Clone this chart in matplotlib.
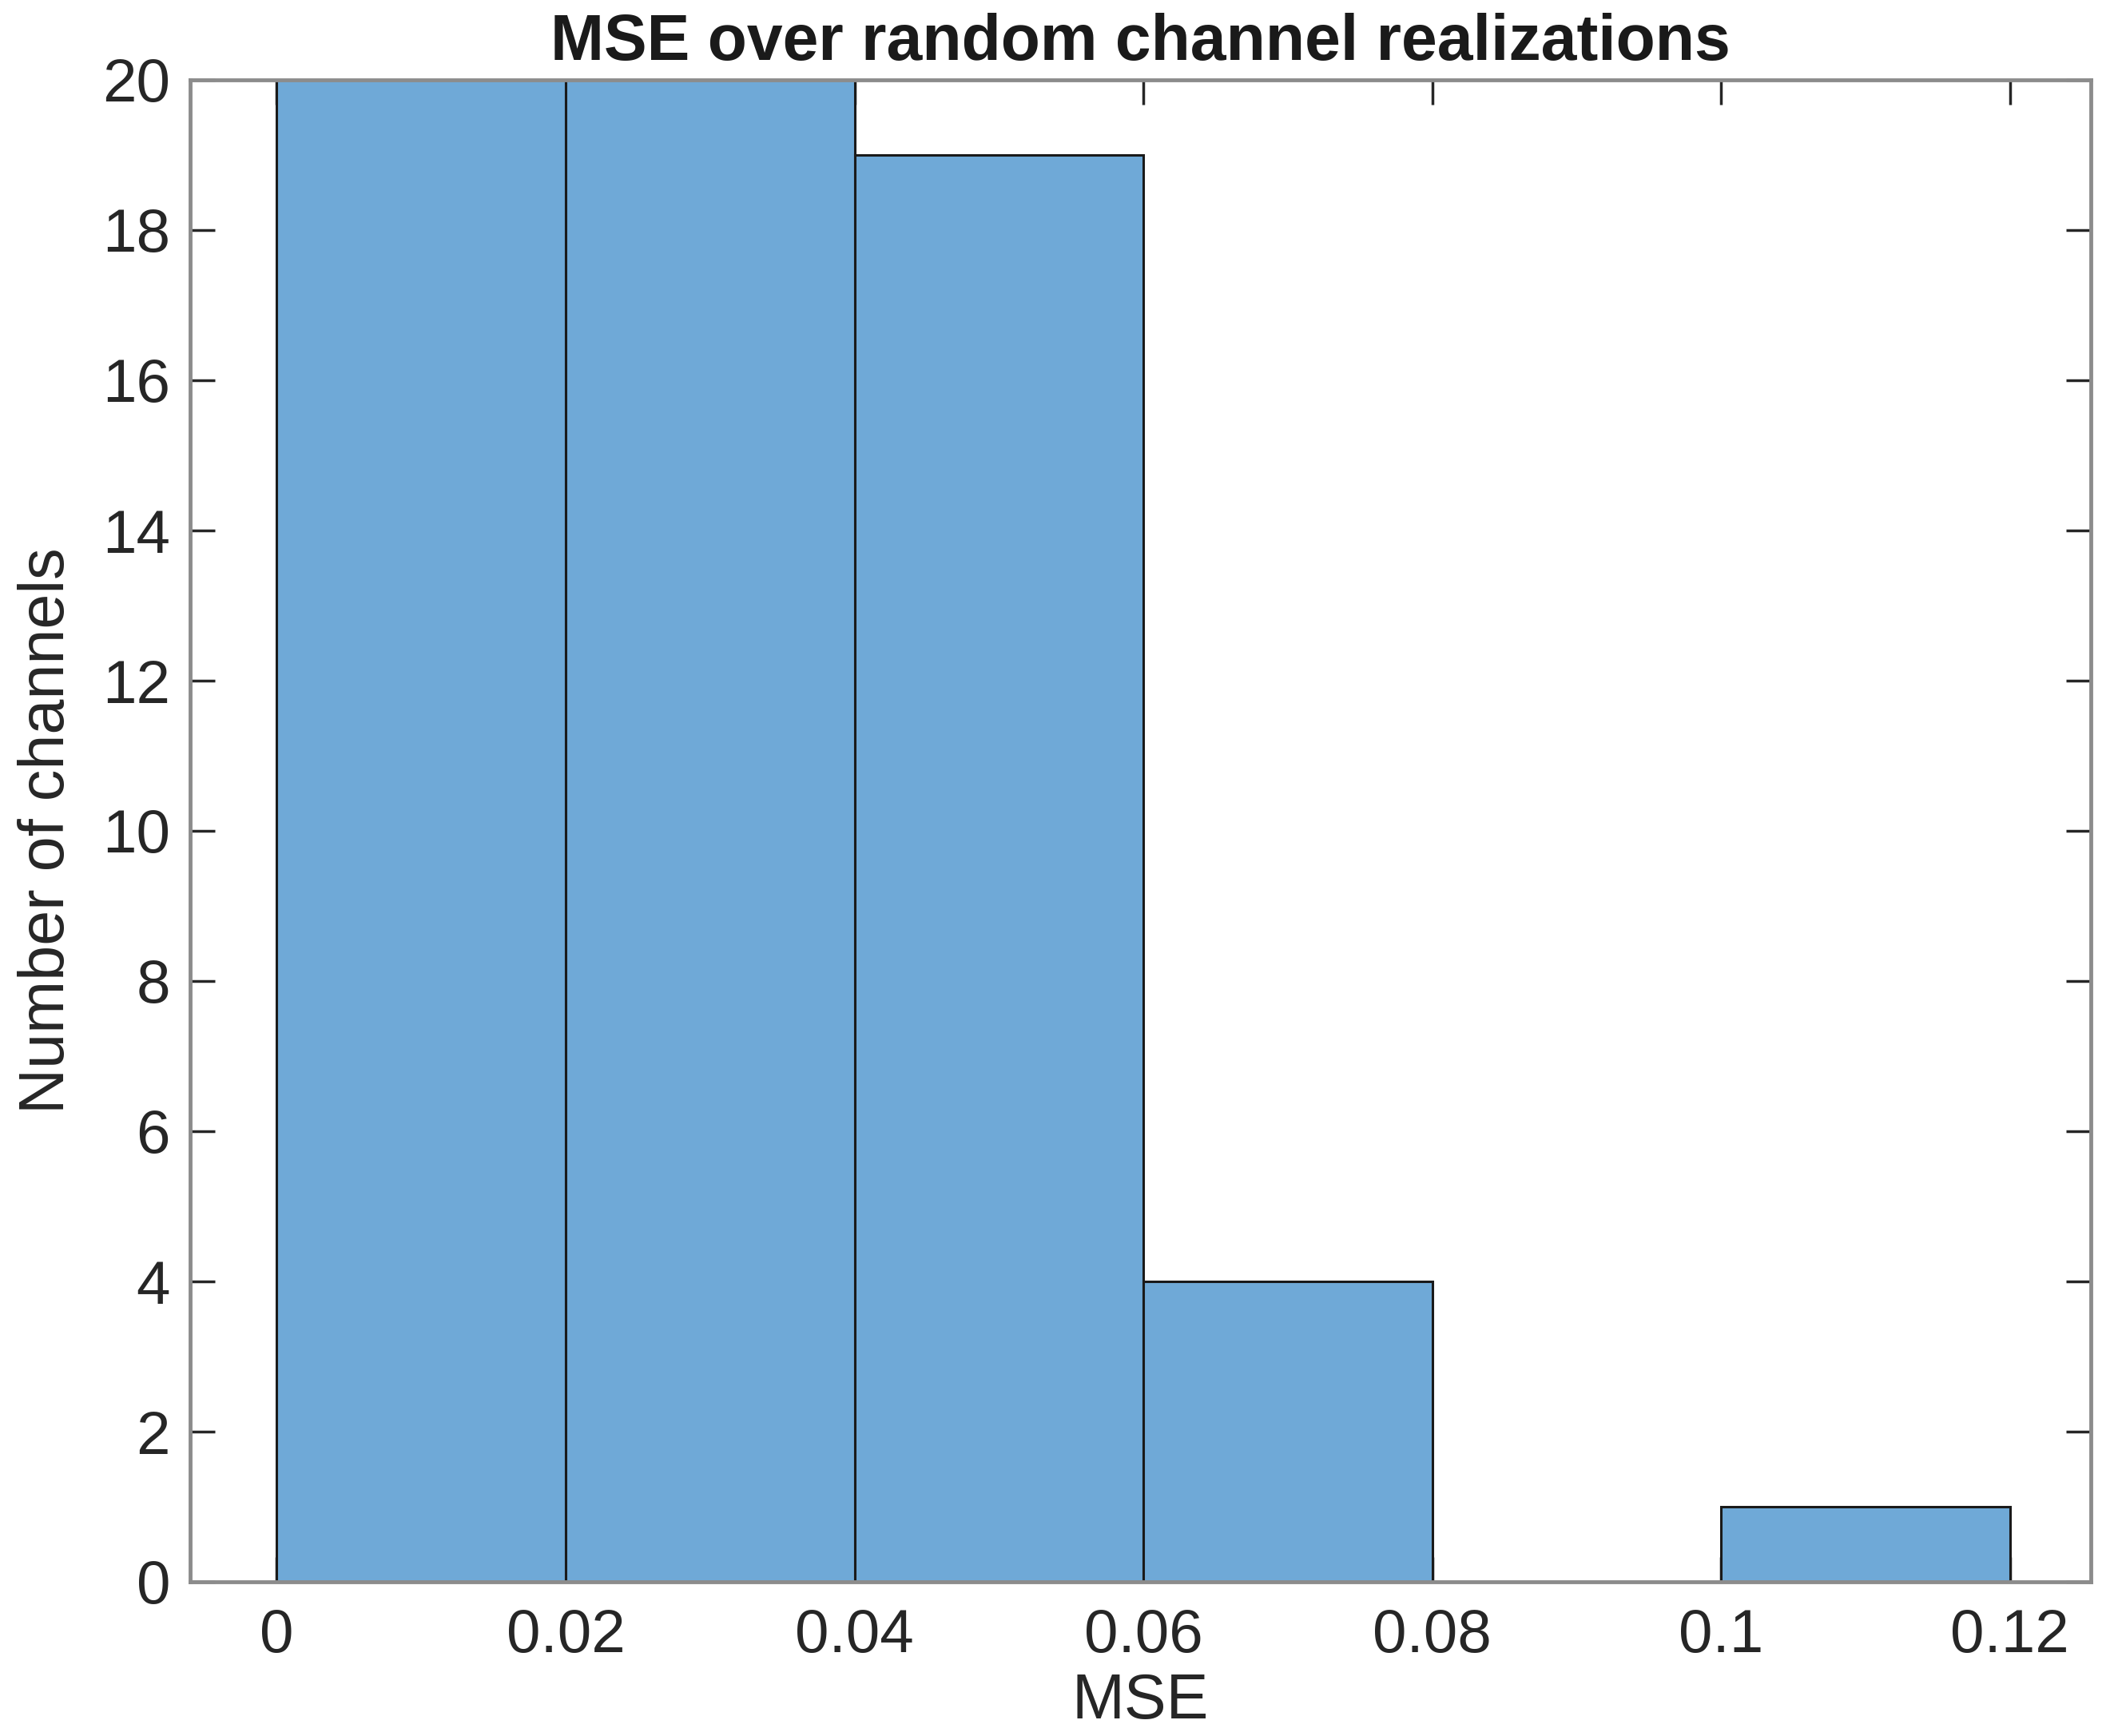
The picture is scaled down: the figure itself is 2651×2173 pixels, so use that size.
import numpy as np
from matplotlib import pyplot as plt

# histogram counts (first two bins run past the axis top)
bin_edges = [0.0, 0.02, 0.04, 0.06, 0.08, 0.10, 0.12]
counts = [38, 37, 19, 4, 0, 1]
xticks = [0, 0.02, 0.04, 0.06, 0.08, 0.1, 0.12]
xticklabels = ['0', '0.02', '0.04', '0.06', '0.08', '0.1', '0.12']
yticks = list(range(0, 21, 2))

plt.rcParams['font.family'] = ['Liberation Sans', 'DejaVu Sans']

fig = plt.figure(figsize=(26.51, 21.73), dpi=100)
ax = fig.add_axes([238 / 2651, 1 - 1980 / 2173, (2617 - 238) / 2651, (1980 - 100) / 2173])

left = np.array(bin_edges[:-1])
widths = np.diff(bin_edges)
ax.bar(left, counts, width=widths, align='edge', color='#6FA9D7',
       edgecolor='#1a1a1a', linewidth=2.2, zorder=2)

ax.set_xlim(-0.006, 0.1256)
ax.set_ylim(0, 20)
ax.set_xticks(xticks)
ax.set_xticklabels(xticklabels)
ax.set_yticks(yticks)

for s in ax.spines.values():
    s.set_color('#8c8c8c')
    s.set_linewidth(3.5)
    s.set_zorder(3)

ax.tick_params(direction='in', length=22, width=2.5, color='#262626',
               labelsize=55, labelcolor='#262626', top=True, right=True)
ax.tick_params(axis='y', pad=18)
ax.tick_params(axis='x', pad=24)

ax.set_xlabel('MSE', fontsize=57, color='#262626', labelpad=6)
ax.set_ylabel('Number of channels', fontsize=57, color='#262626', labelpad=22)
ax.set_title('MSE over random channel realizations', fontsize=58,
             fontweight='bold', color='#1a1a1a', pad=18)

fig.savefig('out.png', dpi=100)
